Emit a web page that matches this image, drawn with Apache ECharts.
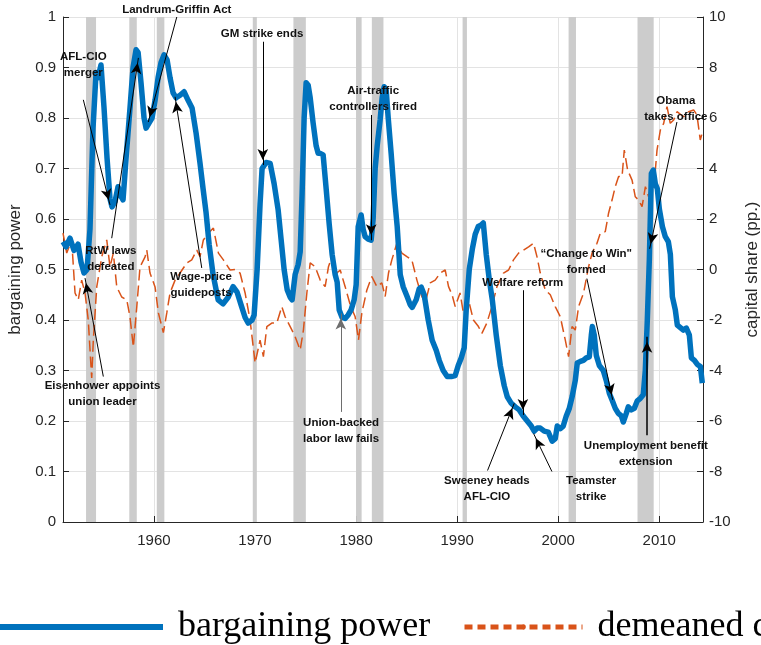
<!DOCTYPE html>
<html>
<head>
<meta charset="utf-8">
<script src="https://cdn.jsdelivr.net/npm/echarts@6/dist/echarts.min.js"></script>
<style>
  html, body { margin: 0; padding: 0; background: #ffffff; }
  #chart { width: 761px; height: 645px; }
</style>
</head>
<body>
<div id="chart"></div>
<script>
// Bargaining power vs. demeaned capital share, 1951-2014, with NBER recessions
// and labour-history annotations.

// [year, bargaining power]
const bargaining = [
  [1951.00,0.555],[1951.30,0.545],[1951.69,0.562],[1952.09,0.538],[1952.49,0.550],[1952.78,0.515],
  [1953.08,0.493],[1953.38,0.500],[1953.67,0.580],[1953.97,0.780],[1954.27,0.890],[1954.47,0.880],
  [1954.76,0.905],[1955.06,0.820],[1955.36,0.720],[1955.65,0.640],[1955.85,0.624],[1956.15,0.635],
  [1956.45,0.664],[1956.74,0.645],[1956.94,0.638],[1957.24,0.720],[1957.63,0.820],[1957.93,0.900],
  [1958.23,0.935],[1958.43,0.930],[1958.72,0.870],[1959.02,0.800],[1959.22,0.780],[1959.51,0.790],
  [1959.81,0.800],[1960.11,0.835],[1960.41,0.880],[1960.70,0.910],[1961.00,0.925],[1961.30,0.915],
  [1961.59,0.880],[1961.89,0.850],[1962.19,0.840],[1962.58,0.845],[1962.98,0.852],[1963.38,0.835],
  [1963.77,0.820],[1964.17,0.770],[1964.56,0.710],[1964.86,0.660],[1965.16,0.612],[1965.46,0.550],
  [1965.85,0.490],[1966.35,0.440],[1966.84,0.432],[1967.34,0.445],[1967.83,0.466],[1968.23,0.455],
  [1968.62,0.430],[1969.02,0.405],[1969.32,0.394],[1969.71,0.400],[1969.91,0.410],[1970.21,0.500],
  [1970.50,0.630],[1970.70,0.700],[1971.10,0.712],[1971.50,0.710],[1971.89,0.670],[1972.29,0.618],
  [1972.58,0.560],[1972.88,0.500],[1973.18,0.460],[1973.48,0.445],[1973.67,0.440],[1973.97,0.490],
  [1974.27,0.510],[1974.47,0.535],[1974.66,0.650],[1974.86,0.800],[1975.06,0.870],[1975.26,0.865],
  [1975.46,0.840],[1975.75,0.790],[1976.05,0.745],[1976.25,0.730],[1976.45,0.730],[1976.74,0.727],
  [1977.04,0.660],[1977.34,0.590],[1977.63,0.530],[1977.93,0.490],[1978.13,0.475],[1978.33,0.420],
  [1978.62,0.405],[1978.92,0.403],[1979.22,0.410],[1979.51,0.420],[1979.81,0.440],[1980.01,0.470],
  [1980.21,0.585],[1980.50,0.608],[1980.70,0.580],[1980.90,0.565],[1981.20,0.560],[1981.49,0.558],
  [1981.69,0.600],[1981.89,0.700],[1982.09,0.745],[1982.38,0.796],[1982.58,0.840],[1982.78,0.862],
  [1982.98,0.855],[1983.18,0.800],[1983.47,0.730],[1983.77,0.650],[1984.07,0.585],[1984.37,0.490],
  [1984.66,0.466],[1985.06,0.446],[1985.36,0.430],[1985.55,0.425],[1985.95,0.440],[1986.25,0.462],
  [1986.45,0.465],[1986.74,0.450],[1987.14,0.400],[1987.53,0.360],[1987.93,0.340],[1988.23,0.320],
  [1988.62,0.300],[1989.02,0.288],[1989.42,0.288],[1989.81,0.290],[1990.11,0.310],[1990.41,0.325],
  [1990.70,0.345],[1990.90,0.420],[1991.20,0.500],[1991.50,0.540],[1991.79,0.570],[1992.09,0.585],
  [1992.39,0.588],[1992.59,0.592],[1992.88,0.530],[1993.18,0.480],[1993.48,0.440],[1993.87,0.370],
  [1994.27,0.310],[1994.66,0.270],[1994.96,0.248],[1995.36,0.235],[1995.75,0.228],[1996.15,0.222],
  [1996.54,0.210],[1996.94,0.200],[1997.34,0.190],[1997.63,0.180],[1997.93,0.186],[1998.23,0.186],
  [1998.62,0.180],[1999.02,0.178],[1999.41,0.160],[1999.71,0.165],[1999.91,0.190],[2000.21,0.185],
  [2000.50,0.190],[2000.80,0.210],[2001.10,0.225],[2001.40,0.250],[2001.69,0.280],[2001.89,0.315],
  [2002.19,0.318],[2002.49,0.320],[2002.78,0.325],[2003.08,0.327],[2003.28,0.370],[2003.38,0.387],
  [2003.57,0.370],[2003.77,0.330],[2004.07,0.310],[2004.46,0.300],[2004.76,0.280],[2005.06,0.255],
  [2005.36,0.240],[2005.65,0.225],[2005.95,0.215],[2006.25,0.210],[2006.44,0.198],[2006.74,0.215],
  [2006.94,0.228],[2007.24,0.222],[2007.53,0.225],[2007.83,0.240],[2008.13,0.245],[2008.42,0.252],
  [2008.62,0.300],[2008.82,0.400],[2009.02,0.520],[2009.22,0.690],[2009.41,0.697],[2009.61,0.670],
  [2009.81,0.660],[2010.01,0.620],[2010.31,0.585],[2010.60,0.565],[2010.90,0.555],[2011.10,0.530],
  [2011.30,0.446],[2011.59,0.420],[2011.79,0.390],[2012.09,0.385],[2012.39,0.380],[2012.68,0.384],
  [2012.98,0.370],[2013.18,0.325],[2013.48,0.320],[2013.77,0.312],[2014.07,0.308],[2014.26,0.275]
];

// [year, capital share in pp.]
const capitalShare = [
  [1951.00,1.44],[1951.37,0.65],[1951.86,1.17],[1952.19,-0.93],[1952.51,-1.20],[1952.85,-0.42],
  [1953.18,-0.93],[1953.50,-2.00],[1953.84,-4.30],[1954.00,-2.80],[1954.34,-0.69],[1954.83,0.50],
  [1955.33,1.17],[1955.65,0.10],[1955.98,0.65],[1956.32,-0.69],[1956.81,-1.09],[1957.31,-1.20],
  [1957.63,-1.88],[1957.96,-3.07],[1958.30,-1.48],[1958.62,0.10],[1959.12,0.50],[1959.29,0.77],
  [1959.61,-0.14],[1960.11,-0.69],[1960.44,-1.72],[1960.93,-2.50],[1961.27,-1.72],[1961.59,-0.93],
  [1962.09,-0.42],[1962.58,-0.14],[1963.25,0.26],[1963.74,0.38],[1964.24,0.77],[1964.56,0.51],
  [1964.89,1.17],[1965.39,1.44],[1965.88,1.64],[1966.38,0.65],[1966.87,0.38],[1967.53,-0.02],
  [1968.03,0.00],[1968.52,-0.14],[1969.02,-0.93],[1969.51,-2.00],[1970.01,-3.70],[1970.50,-2.80],
  [1970.83,-3.45],[1971.17,-2.26],[1971.66,-2.12],[1972.16,-2.12],[1972.65,-1.47],[1972.98,-1.87],
  [1973.48,-2.26],[1973.97,-2.66],[1974.47,-3.19],[1974.79,-2.40],[1975.13,-0.93],[1975.46,0.26],
  [1975.95,0.11],[1976.45,-0.42],[1976.94,-0.68],[1977.27,0.11],[1977.60,0.51],[1978.10,-0.14],
  [1978.43,-0.02],[1978.92,-0.68],[1979.42,-1.40],[1979.91,-1.87],[1980.24,-2.79],[1980.57,-1.72],
  [1981.07,-0.81],[1981.56,-0.28],[1982.06,-0.68],[1982.55,-0.53],[1982.88,-1.07],[1983.21,-0.14],
  [1983.54,0.38],[1984.04,1.04],[1984.53,0.65],[1985.03,0.51],[1985.52,0.38],[1986.02,-0.42],
  [1986.51,-1.07],[1986.84,-1.33],[1987.34,-0.53],[1987.83,-0.42],[1988.33,-0.14],[1988.82,-0.02],
  [1989.15,-0.68],[1989.50,-1.00],[1989.81,-1.47],[1990.29,-0.93],[1990.62,-1.72],[1991.12,-1.20],
  [1991.61,-2.00],[1992.11,-2.26],[1992.45,-2.53],[1992.94,-2.12],[1993.44,-1.47],[1993.94,-0.68],
  [1994.59,-0.14],[1995.09,-0.02],[1995.58,0.38],[1996.08,0.65],[1996.57,0.77],[1997.07,0.90],
  [1997.56,1.04],[1997.90,0.51],[1998.23,-0.14],[1998.72,-0.81],[1999.22,-1.00],[1999.71,-1.47],
  [2000.21,-1.87],[2000.70,-2.79],[2001.03,-3.45],[2001.37,-2.26],[2001.69,-2.40],[2002.02,-1.47],
  [2002.51,-0.93],[2003.01,0.11],[2003.35,0.65],[2003.84,1.04],[2004.17,1.44],[2004.66,1.50],
  [2004.99,2.24],[2005.33,2.75],[2005.65,3.28],[2005.98,3.68],[2006.32,3.68],[2006.54,4.73],
  [2006.87,3.94],[2007.31,3.54],[2007.63,2.88],[2007.96,2.75],[2008.30,2.49],[2008.63,3.28],
  [2008.95,2.88],[2009.29,3.54],[2009.45,3.15],[2009.78,4.73],[2010.11,5.52],[2010.44,5.79],
  [2010.77,6.45],[2011.09,5.79],[2011.43,5.92],[2011.76,6.25],[2012.41,6.05],[2012.91,6.25],
  [2013.40,6.32],[2013.73,6.12],[2014.06,5.13],[2014.24,5.39]
];

// recession shading [start, end]
const recessions = [
  [1953.28,1954.27],[1957.56,1958.30],[1960.28,1961.03],[1969.78,1970.18],[1973.80,1975.03],
  [1980.00,1980.55],[1981.56,1982.71],[1990.54,1990.97],[2001.03,2001.76],[2007.85,2009.45]
];

const yearTicks = [1960, 1970, 1980, 1990, 2000, 2010];

// annotation text (placed at `at`) and arrow from -> to, in (year, bargaining power)
const notes = [
  { text: 'Landrum-Griffin Act', at: [1962.26, 1.0], offset: [0, -7], from: [1962.26, 1.0], to: [1959.44, 0.792] },
  { text: 'AFL-CIO\nmerger', at: [1953.01, 0.905], from: [1953.01, 0.836], to: [1955.65, 0.628] },
  { text: 'RtW laws\ndefeated', at: [1955.73, 0.521], from: [1955.82, 0.562], to: [1958.46, 0.919] },
  { text: 'Eisenhower appoints\nunion leader', at: [1954.91, 0.253], from: [1954.99, 0.288], to: [1953.18, 0.483] },
  { text: 'Wage-price\nguideposts', at: [1964.66, 0.469], from: [1964.73, 0.503], to: [1962.09, 0.842] },
  { text: 'GM strike ends', at: [1970.70, 0.966], from: [1970.77, 0.951], to: [1970.77, 0.707] },
  { text: 'Air-traffic\ncontrollers fired', at: [1981.69, 0.837], from: [1981.50, 0.806], to: [1981.50, 0.558] },
  { text: 'Union-backed\nlabor law fails', at: [1978.52, 0.180], from: [1978.49, 0.218], to: [1978.49, 0.413], color: '#6e6e6e' },
  { text: 'Welfare reform', at: [1996.50, 0.473], from: [1996.51, 0.459], to: [1996.51, 0.212] },
  { text: 'Sweeney heads\nAFL-CIO', at: [1992.95, 0.065], from: [1993.01, 0.102], to: [1995.65, 0.235] },
  { text: 'Teamster\nstrike', at: [2003.26, 0.065], from: [1999.38, 0.100], to: [1997.57, 0.175] },
  { text: '\u201cChange to Win"\nformed', at: [2002.78, 0.515], from: [2002.84, 0.482], to: [2005.39, 0.242] },
  { text: 'Obama\ntakes office', at: [2011.64, 0.819], from: [2011.75, 0.792], to: [2009.05, 0.541] },
  { text: 'Unemployment benefit\nextension', at: [2008.67, 0.135], from: [2008.79, 0.172], to: [2008.79, 0.367], width: 1.5 }
];

const BLUE = '#0072BD';
const ORANGE = '#D95319';
const AXIS = '#262626';
const SANS = 'Liberation Sans';
const SERIF = 'Liberation Serif';

const chart = echarts.init(document.getElementById('chart'));

const legendText = { fontFamily: SERIF, fontSize: 36, color: '#000', padding: [0, 0, 0, 10] };

chart.setOption({
  animation: false,
  backgroundColor: '#ffffff',
  textStyle: { fontFamily: SANS },
  grid: { left: 63, right: 58, top: 17, bottom: 123, outerBoundsMode: 'none', containLabel: false },
  legend: [{
    data: ['bargaining power'],
    left: -20, top: 609, padding: 0,
    itemWidth: 180, itemHeight: 6,
    lineStyle: { width: 6 },
    textStyle: legendText,
    selectedMode: false
  }, {
    data: ['demeaned capital share'],
    left: 462, top: 609, padding: 0,
    itemWidth: 118, itemHeight: 6,
    lineStyle: { width: 5, type: [8, 5] },
    textStyle: legendText,
    selectedMode: false
  }],
  xAxis: {
    type: 'value',
    min: 1951, max: 2014.33,
    axisLine: { show: true, onZero: false, lineStyle: { color: AXIS } },
    axisTick: { show: true, inside: true, length: 6, customValues: yearTicks, lineStyle: { color: AXIS } },
    axisLabel: { customValues: yearTicks, color: AXIS, fontSize: 15, margin: 11, formatter: v => String(v) },
    splitLine: { show: true, lineStyle: { color: '#e3e3e3' } }
  },
  yAxis: [{
    type: 'value',
    min: 0, max: 1, interval: 0.1,
    name: 'bargaining power',
    nameLocation: 'middle', nameRotate: 90, nameGap: 35,
    nameTextStyle: { fontSize: 17, color: AXIS },
    axisLine: { show: true, lineStyle: { color: AXIS } },
    axisTick: { show: true, inside: true, length: 6, lineStyle: { color: AXIS } },
    axisLabel: { color: AXIS, fontSize: 15, margin: 7 },
    splitLine: { show: true, lineStyle: { color: '#e3e3e3' } }
  }, {
    type: 'value',
    min: -10, max: 10, interval: 2,
    position: 'right',
    name: 'capital share (pp.)',
    nameLocation: 'middle', nameRotate: 90, nameGap: 41,
    nameTextStyle: { fontSize: 17, color: AXIS },
    axisLine: { show: true, lineStyle: { color: AXIS } },
    axisTick: { show: true, inside: true, length: 6, lineStyle: { color: AXIS } },
    axisLabel: { color: AXIS, fontSize: 15, margin: 6 },
    splitLine: { show: false }
  }],
  series: [{
    // recession bands
    type: 'line',
    data: [],
    z: 1,
    silent: true,
    markArea: {
      silent: true,
      itemStyle: { color: '#cccccc', opacity: 1 },
      data: recessions.map(r => [{ xAxis: r[0] }, { xAxis: r[1] }])
    }
  }, {
    name: 'demeaned capital share',
    type: 'line',
    yAxisIndex: 1,
    data: capitalShare,
    symbol: 'none',
    z: 3,
    lineStyle: { color: ORANGE, width: 1.5, type: [11, 5] },
    itemStyle: { color: ORANGE }
  }, {
    name: 'bargaining power',
    type: 'line',
    data: bargaining,
    symbol: 'none',
    z: 4,
    lineStyle: { color: BLUE, width: 5.5, join: 'round' },
    itemStyle: { color: BLUE }
  }, {
    // annotations
    type: 'line',
    data: [],
    z: 6,
    silent: true,
    markLine: {
      silent: true,
      animation: false,
      label: { show: false },
      data: notes.map(n => [
        { coord: n.from, symbol: 'none' },
        {
          coord: n.to, symbol: 'arrow', symbolSize: [8, 11], symbolOffset: [0, 5],
          lineStyle: { color: n.color || '#000', width: n.width || 1, type: 'solid' },
          itemStyle: { color: n.color || '#000' }
        }
      ])
    },
    markPoint: {
      silent: true,
      symbol: 'circle',
      symbolSize: 1,
      itemStyle: { color: 'rgba(0,0,0,0)' },
      label: {
        show: true,
        position: 'inside',
        formatter: '{b}',
        fontFamily: SANS,
        fontWeight: 'bold',
        fontSize: 11.5,
        lineHeight: 16,
        color: '#111',
        align: 'center',
        verticalAlign: 'middle'
      },
      data: notes.map(n => ({ name: n.text, coord: n.at, label: { offset: n.offset || [0, 0] } }))
    }
  }]
});
</script>
</body>
</html>
